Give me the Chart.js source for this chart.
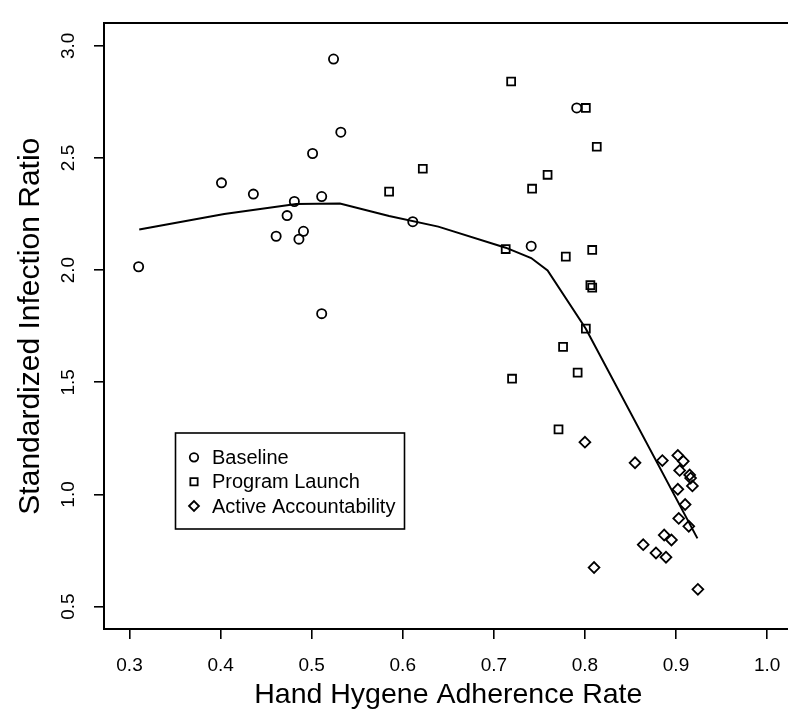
<!DOCTYPE html>
<html><head><meta charset="utf-8">
<script src="https://cdn.jsdelivr.net/npm/chart.js@4/dist/chart.umd.min.js"></script>
<style>html,body{margin:0;padding:0;overflow:hidden;background:#fff}canvas{display:block}</style>
</head><body>
<canvas id="c" width="800" height="718" style="width:800px;height:718px"></canvas>
<script>
const seriesNames = ['Baseline', 'Program Launch', 'Active Accountability'];
const xTicks = [0.3, 0.4, 0.5, 0.6, 0.7, 0.8, 0.9, 1.0];
const yTicks = [0.5, 1.0, 1.5, 2.0, 2.5, 3.0];
const xTitle = 'Hand Hygene Adherence Rate';
const yTitle = 'Standardized Infection Ratio';

const baselineX = [0.310, 0.401, 0.436, 0.481, 0.473, 0.461, 0.491, 0.486, 0.511, 0.501, 0.524, 0.532, 0.511, 0.611, 0.791, 0.741];
const baselineY = [2.015, 2.389, 2.339, 2.306, 2.243, 2.151, 2.173, 2.138, 2.328, 2.520, 2.941, 2.615, 1.806, 2.216, 2.723, 2.107];

const launchX = [0.585, 0.622, 0.801, 0.719, 0.813, 0.759, 0.742, 0.713, 0.779, 0.808, 0.806, 0.808, 0.801, 0.776, 0.792, 0.720, 0.771];
const launchY = [2.350, 2.452, 2.723, 2.841, 2.550, 2.425, 2.363, 2.094, 2.060, 2.090, 1.933, 1.922, 1.739, 1.658, 1.543, 1.516, 1.290];

const activeX = [0.800, 0.855, 0.885, 0.902, 0.908, 0.904, 0.915, 0.916, 0.918, 0.902, 0.910, 0.903, 0.914, 0.887, 0.895, 0.864, 0.878, 0.889, 0.810, 0.924];
const activeY = [1.233, 1.141, 1.151, 1.174, 1.148, 1.107, 1.087, 1.073, 1.038, 1.023, 0.955, 0.893, 0.858, 0.819, 0.797, 0.776, 0.739, 0.720, 0.674, 0.577];

const smoothX = [0.3107, 0.404, 0.483, 0.531, 0.585, 0.639, 0.713, 0.741, 0.759, 0.801, 0.9235];
const smoothY = [2.181, 2.250, 2.295, 2.297, 2.241, 2.194, 2.100, 2.054, 1.999, 1.739, 0.804];

const zip = (xs, ys) => xs.map((x, i) => ({x: x, y: ys[i]}));
const FONT = "'Liberation Sans', Arial, Helvetica, sans-serif";
Chart.defaults.font.family = FONT;
Chart.defaults.color = '#000';

const MARK_W = 1.8;
const styles = [
  {pointStyle: 'circle', radius: 4.6},
  {pointStyle: 'rect', radius: 5.6},
  {pointStyle: 'rectRot', radius: 5.4}
];

function drawMarker(ctx, style, x, y) {
  ctx.save();
  ctx.strokeStyle = '#000';
  ctx.fillStyle = 'rgba(0,0,0,0)';
  ctx.lineWidth = MARK_W;
  Chart.helpers.drawPoint(ctx, {pointStyle: style.pointStyle, radius: style.radius * 0.92, rotation: 0, borderWidth: MARK_W}, x, y);
  ctx.restore();
}

const boxLegend = {
  id: 'boxLegend',
  afterDraw(chart) {
    const ctx = chart.ctx;
    ctx.save();
    ctx.strokeStyle = '#000';
    ctx.lineWidth = 1.6;
    ctx.strokeRect(175.5, 433, 229, 96);
    ctx.font = '20px ' + FONT;
    ctx.fillStyle = '#000';
    ctx.textBaseline = 'middle';
    ctx.textAlign = 'left';
    const rows = [457.3, 481.7, 506];
    seriesNames.forEach((name, i) => {
      drawMarker(ctx, styles[i], 194, rows[i]);
      ctx.fillText(name, 212, rows[i] + 1);
    });
    ctx.restore();
  }
};

const mkSet = (label, xs, ys, st) => ({
  label: label,
  data: zip(xs, ys),
  pointStyle: st.pointStyle,
  pointRadius: st.radius,
  pointHoverRadius: st.radius,
  backgroundColor: 'rgba(0,0,0,0)',
  borderColor: '#000',
  pointBorderWidth: MARK_W,
  borderWidth: MARK_W,
  showLine: false
});

new Chart(document.getElementById('c'), {
  type: 'scatter',
  data: {
    datasets: [
      mkSet(seriesNames[0], baselineX, baselineY, styles[0]),
      mkSet(seriesNames[1], launchX, launchY, styles[1]),
      mkSet(seriesNames[2], activeX, activeY, styles[2]),
      {
        label: 'smooth',
        data: zip(smoothX, smoothY),
        showLine: true,
        pointRadius: 0,
        borderColor: '#000',
        borderWidth: 2,
        tension: 0,
        fill: false
      }
    ]
  },
  options: {
    responsive: false,
    devicePixelRatio: 1,
    animation: false,
    layout: {padding: {left: 0, right: 4, top: 7, bottom: 0}},
    plugins: {legend: {display: false}, tooltip: {enabled: false}},
    scales: {
      x: {
        type: 'linear', position: 'bottom', min: 0.272, max: 1.028,
        afterBuildTicks: s => { s.ticks = xTicks.map(v => ({value: v})); },
        afterFit: s => { s.height = 89; },
        ticks: {font: {size: 19}, padding: 15, color: '#000', callback: v => v.toFixed(1), maxRotation: 0, autoSkip: false},
        grid: {drawOnChartArea: false, drawTicks: true, tickLength: 10, color: '#000', lineWidth: 1.6},
        border: {display: true, color: '#000', width: 2},
        title: {display: true, text: xTitle, font: {size: 28.5}, color: '#000', padding: {top: 0, bottom: 6}}
      },
      y: {
        type: 'linear', position: 'left', min: 0.4, max: 3.1,
        afterBuildTicks: s => { s.ticks = yTicks.map(v => ({value: v})); },
        afterFit: s => { s.width = 104; },
        ticks: {font: {size: 19}, padding: 12, color: '#000', callback: v => v.toFixed(1), minRotation: 90, maxRotation: 90, crossAlign: 'center', autoSkip: false},
        grid: {drawOnChartArea: false, drawTicks: true, tickLength: 10, color: '#000', lineWidth: 1.6},
        border: {display: true, color: '#000', width: 2},
        title: {display: true, text: yTitle, font: {size: 30}, color: '#000', padding: {top: 13, bottom: 0}}
      },
      x2: {
        type: 'linear', position: 'top', min: 0, max: 1,
        afterFit: s => { s.height = 0; },
        ticks: {display: false},
        grid: {display: false, drawTicks: false},
        border: {display: true, color: '#000', width: 2}
      },
      y2: {
        type: 'linear', position: 'right', min: 0, max: 1,
        afterFit: s => { s.width = 0; },
        ticks: {display: false},
        grid: {display: false, drawTicks: false},
        border: {display: true, color: '#000', width: 2}
      }
    }
  },
  plugins: [boxLegend]
});
</script>
</body></html>
